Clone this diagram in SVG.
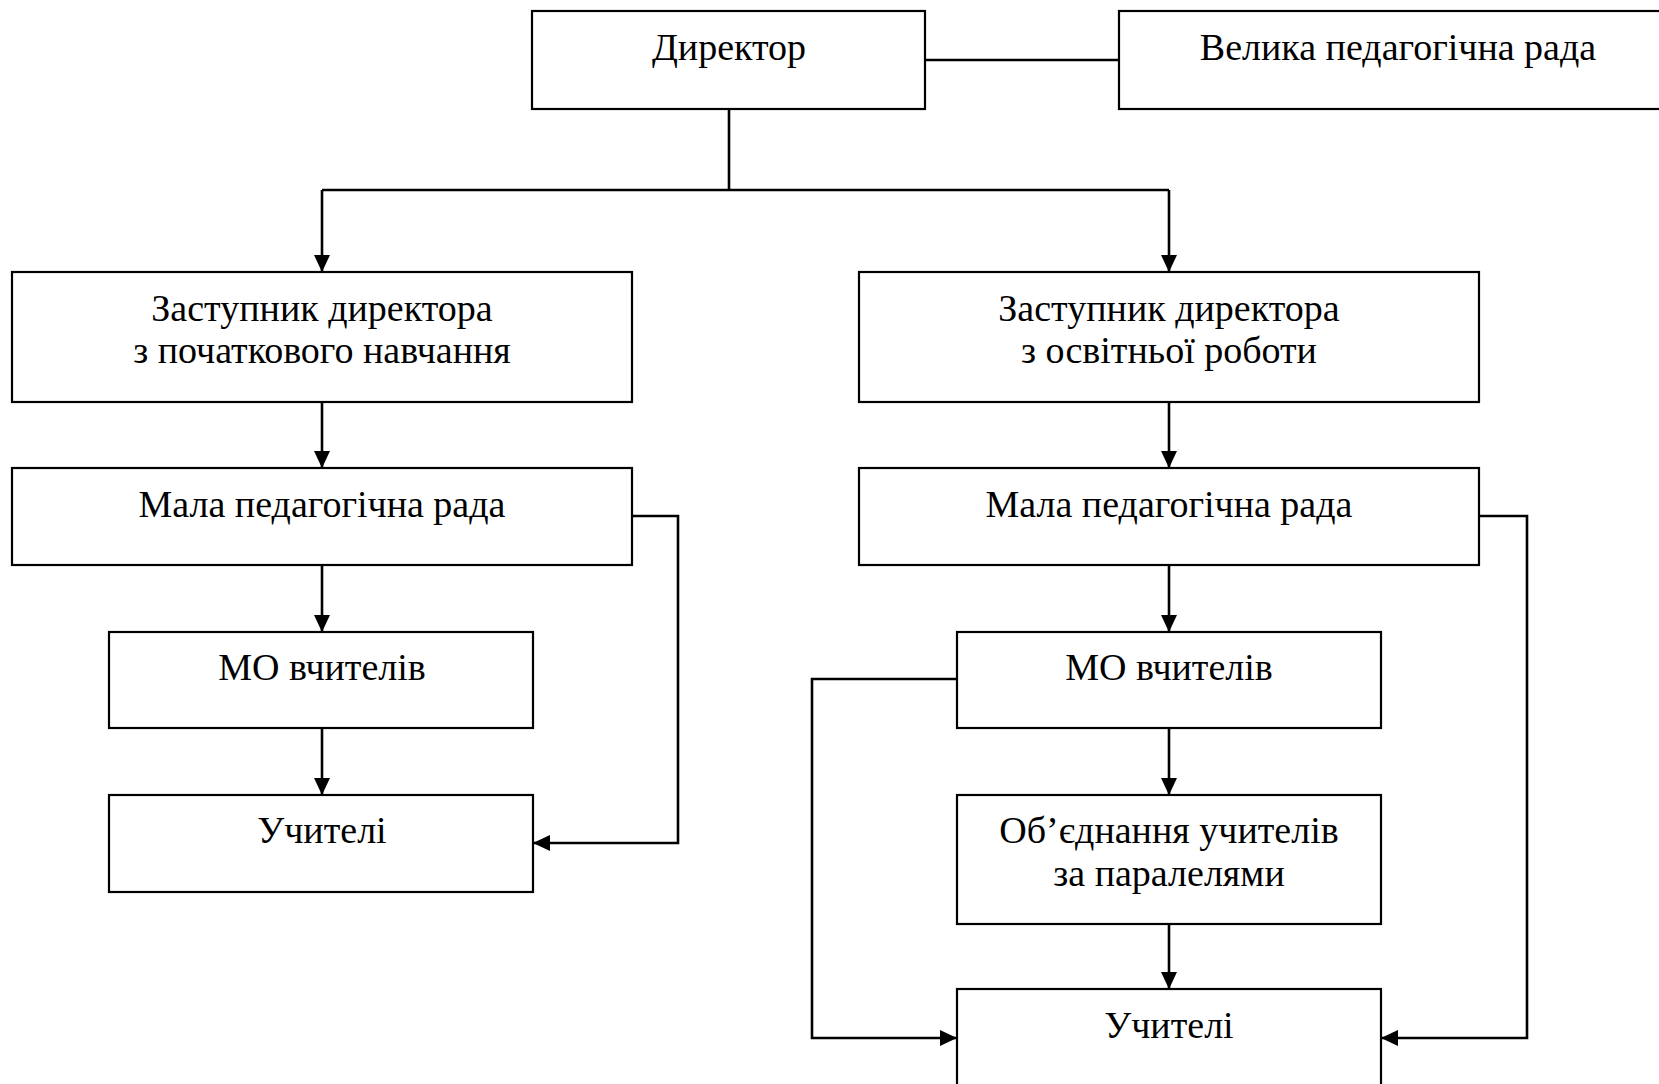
<svg xmlns="http://www.w3.org/2000/svg" width="1659" height="1084" viewBox="0 0 1659 1084">
<style>
.box{fill:#fff;stroke:#000;stroke-width:2.2}
.t{font-family:"Liberation Serif","Times New Roman",serif;font-size:38px;fill:#000;text-anchor:middle}
.c{fill:none;stroke:#000;stroke-width:2.6}
</style>
<defs>
<marker id="ah" markerUnits="userSpaceOnUse" markerWidth="17" markerHeight="17" refX="17" refY="8.5" orient="auto" viewBox="0 0 17 17">
<path d="M0,0.5 L17,8.5 L0,16.5 z" fill="#000"/>
</marker>
</defs>
<rect width="1659" height="1084" fill="#fff"/>
<g id="connectors">
<path class="c" d="M925,60 H1119"/>
<path class="c" d="M729,109 V190"/>
<path class="c" d="M322,190 H1169"/>
<path class="c" d="M322,190 V272" marker-end="url(#ah)"/>
<path class="c" d="M1169,190 V272" marker-end="url(#ah)"/>
<path class="c" d="M322,402 V468" marker-end="url(#ah)"/>
<path class="c" d="M1169,402 V468" marker-end="url(#ah)"/>
<path class="c" d="M322,565 V632" marker-end="url(#ah)"/>
<path class="c" d="M1169,565 V632" marker-end="url(#ah)"/>
<path class="c" d="M322,728 V795" marker-end="url(#ah)"/>
<path class="c" d="M1169,728 V795" marker-end="url(#ah)"/>
<path class="c" d="M1169,924 V989" marker-end="url(#ah)"/>
<path class="c" d="M632,516 H678 V843 H533" marker-end="url(#ah)"/>
<path class="c" d="M1479,516 H1527 V1038 H1381" marker-end="url(#ah)"/>
<path class="c" d="M957,679 H812 V1038 H957" marker-end="url(#ah)"/>
</g>
<g id="director"><rect class="box" x="532" y="11" width="393" height="98"/><text class="t" x="729" y="60">Директор</text></g>
<g id="velyka"><rect class="box" x="1119" y="11" width="545" height="98"/><text class="t" x="1398" y="60">Велика педагогічна рада</text></g>
<g id="zast1"><rect class="box" x="12" y="272" width="620" height="130"/><text class="t" x="322" y="321">Заступник директора</text><text class="t" x="322" y="363">з початкового навчання</text></g>
<g id="zast2"><rect class="box" x="859" y="272" width="620" height="130"/><text class="t" x="1169" y="321">Заступник директора</text><text class="t" x="1169" y="363">з освітньої роботи</text></g>
<g id="mala1"><rect class="box" x="12" y="468" width="620" height="97"/><text class="t" x="322" y="517">Мала педагогічна рада</text></g>
<g id="mala2"><rect class="box" x="859" y="468" width="620" height="97"/><text class="t" x="1169" y="517">Мала педагогічна рада</text></g>
<g id="mo1"><rect class="box" x="109" y="632" width="424" height="96"/><text class="t" x="322" y="680">МО вчителів</text></g>
<g id="mo2"><rect class="box" x="957" y="632" width="424" height="96"/><text class="t" x="1169" y="680">МО вчителів</text></g>
<g id="uch1"><rect class="box" x="109" y="795" width="424" height="97"/><text class="t" x="322" y="843">Учителі</text></g>
<g id="obyed"><rect class="box" x="957" y="795" width="424" height="129"/><text class="t" x="1169" y="843">Об’єднання учителів</text><text class="t" x="1169" y="886">за паралелями</text></g>
<g id="uch2"><rect class="box" x="957" y="989" width="424" height="100"/><text class="t" x="1169" y="1038">Учителі</text></g>
</svg>
